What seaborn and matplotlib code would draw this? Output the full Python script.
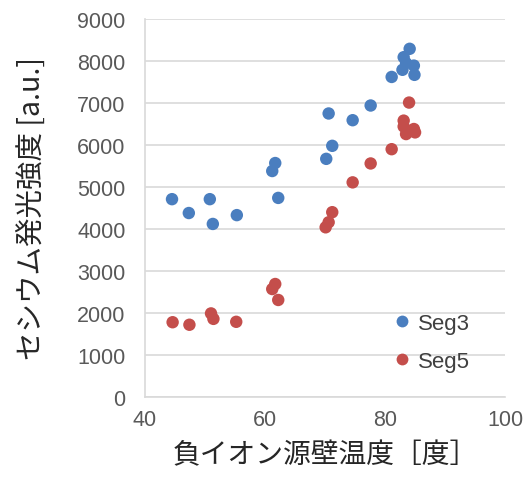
import numpy as np
import pandas as pd
import matplotlib
matplotlib.use('Agg')
import matplotlib.pyplot as plt
import seaborn as sns

# Seg3 / Seg5 readings (wall temperature, Cs emission intensity)
seg3_temp = [44.5, 47.3, 50.8, 51.3, 55.3, 61.2, 61.7, 62.2, 70.2, 70.6, 71.2,
             74.6, 77.6, 81.1, 82.9, 83.1, 83.5, 84.1, 84.8, 84.9]
seg3_int = [4710, 4380, 4710, 4120, 4330, 5380, 5570, 4740, 5670, 6750, 5980,
            6590, 6940, 7620, 7790, 8090, 7950, 8290, 7890, 7670]
seg5_temp = [44.6, 47.4, 51.0, 51.4, 55.2, 61.2, 61.7, 62.2, 70.1, 70.6, 71.2,
             74.6, 77.6, 81.1, 83.1, 83.1, 83.5, 84.0, 84.8, 85.0]
seg5_int = [1780, 1720, 1990, 1860, 1790, 2570, 2690, 2310, 4040, 4160, 4400,
            5110, 5560, 5900, 6580, 6440, 6260, 7010, 6380, 6300]

df = pd.concat([
    pd.DataFrame({'temp': seg3_temp, 'intensity': seg3_int, 'series': 'Seg3'}),
    pd.DataFrame({'temp': seg5_temp, 'intensity': seg5_int, 'series': 'Seg5'}),
])

sns.set_style('white')
plt.rcParams['font.family'] = ['Noto Sans CJK JP', 'DejaVu Sans']

fig = plt.figure(figsize=(5.3, 4.85), dpi=100)
ax = fig.add_axes([0.2736, 0.1794, 0.6794, 0.7794])

sns.scatterplot(data=df, x='temp', y='intensity', hue='series',
                palette={'Seg3': '#4A7EBF', 'Seg5': '#C44E4B'},
                s=80, edgecolor='none', ax=ax, zorder=3)

ax.set_xlim(40, 100)
ax.set_ylim(0, 9000)
ax.set_xticks([40, 60, 80, 100])
ax.set_yticks(np.arange(0, 9001, 1000))
ax.grid(axis='y', color='#D9D9D9', linewidth=1.2)
ax.set_axisbelow(True)
for side in ['top', 'right']:
    ax.spines[side].set_visible(False)
for side in ['left', 'bottom']:
    ax.spines[side].set_color('#D9D9D9')
    ax.spines[side].set_linewidth(1.2)
ax.tick_params(axis='both', length=0, labelsize=15.5, labelcolor='#595959')
ax.tick_params(axis='y', pad=14)
ax.tick_params(axis='x', pad=9)
for lbl in ax.get_xticklabels() + ax.get_yticklabels():
    lbl.set_family(['Liberation Sans', 'DejaVu Sans'])

ax.set_xlabel('負イオン源壁温度［度］', fontsize=20, labelpad=6)
ax.set_ylabel('セシウム発光強度 [a.u.]', fontsize=20.5, labelpad=22)

leg = ax.legend(loc='upper left', bbox_to_anchor=(0.628, 0.275), frameon=False,
                handletextpad=0.2, handlelength=1.0, labelspacing=0.75,
                markerscale=0.95, prop={'family': ['Liberation Sans'], 'size': 16})
for t in leg.get_texts():
    t.set_color('#404040')

fig.savefig('out.png', dpi=100)
